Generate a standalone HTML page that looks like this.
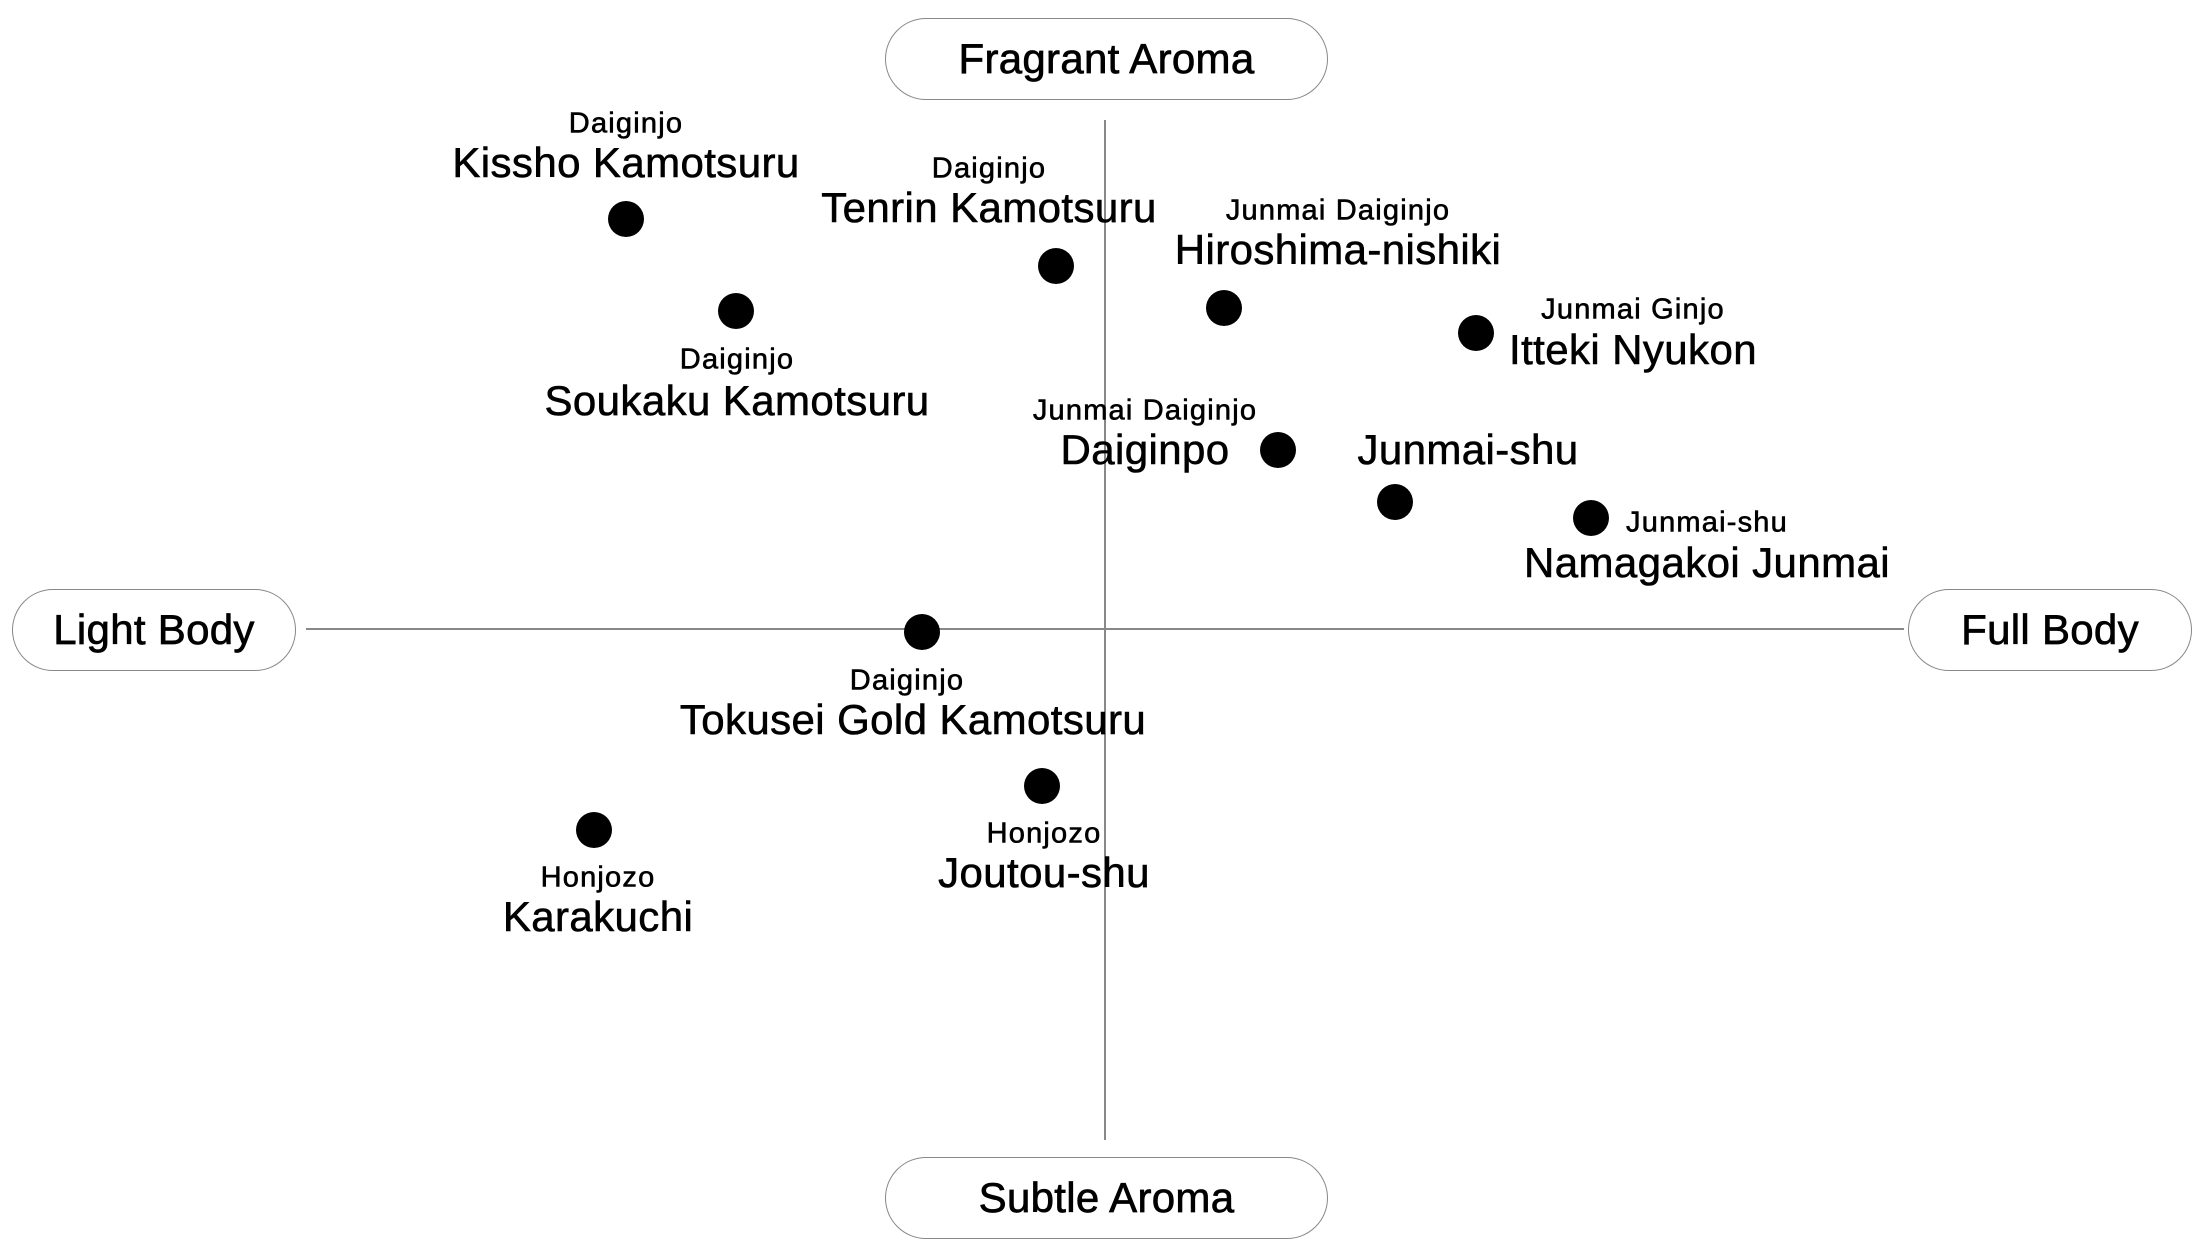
<!DOCTYPE html>
<html><head><meta charset="utf-8"><style>
html,body{margin:0;padding:0;background:#fff;}
body{width:2200px;height:1246px;position:relative;overflow:hidden;font-family:"Liberation Sans",sans-serif;color:#000;}
.pill{position:absolute;border:1.5px solid #888;border-radius:42px;box-sizing:border-box;display:flex;align-items:center;justify-content:center;font-size:42px;-webkit-text-stroke:0.7px #000;letter-spacing:0.3px;}
.dot{position:absolute;width:36px;height:36px;border-radius:50%;background:#000;transform:translate(-50%,-50%);}
.t{position:absolute;transform:translate(-50%,-50%);white-space:nowrap;line-height:1;-webkit-text-stroke:0.6px #000;}
.s{font-size:29px;letter-spacing:1.2px;}
.l{font-size:42px;letter-spacing:0.4px;}
.ln{position:absolute;background:#888;}
</style></head><body>
<div class="ln" style="left:1104px;top:120px;width:1.5px;height:1020px"></div>
<div class="ln" style="left:306px;top:628px;width:1598px;height:1.5px"></div>

<div class="pill" style="left:885px;top:18px;width:443px;height:82px">Fragrant Aroma</div>
<div class="pill" style="left:885px;top:1157px;width:443px;height:82px">Subtle Aroma</div>
<div class="pill" style="left:12px;top:589px;width:284px;height:82px">Light Body</div>
<div class="pill" style="left:1908px;top:589px;width:284px;height:82px">Full Body</div>

<div class="dot" style="left:626px;top:219px"></div>
<div class="dot" style="left:736px;top:311px"></div>
<div class="dot" style="left:1056px;top:266px"></div>
<div class="dot" style="left:1224px;top:308px"></div>
<div class="dot" style="left:1476px;top:333px"></div>
<div class="dot" style="left:1278px;top:450px"></div>
<div class="dot" style="left:1395px;top:502px"></div>
<div class="dot" style="left:1591px;top:518px"></div>
<div class="dot" style="left:922px;top:632px"></div>
<div class="dot" style="left:1042px;top:786px"></div>
<div class="dot" style="left:594px;top:830px"></div>

<div class="t s" style="left:626px;top:124px">Daiginjo</div>
<div class="t l" style="left:626px;top:163px">Kissho Kamotsuru</div>
<div class="t s" style="left:989px;top:169px">Daiginjo</div>
<div class="t l" style="left:989px;top:208px">Tenrin Kamotsuru</div>
<div class="t s" style="left:737px;top:360px">Daiginjo</div>
<div class="t l" style="left:737px;top:401px">Soukaku Kamotsuru</div>
<div class="t s" style="left:1338px;top:211px">Junmai Daiginjo</div>
<div class="t l" style="left:1338px;top:250px">Hiroshima-nishiki</div>
<div class="t s" style="left:1633px;top:310px">Junmai Ginjo</div>
<div class="t l" style="left:1633px;top:350px">Itteki Nyukon</div>
<div class="t s" style="left:1145px;top:411px">Junmai Daiginjo</div>
<div class="t l" style="left:1145px;top:450px">Daiginpo</div>
<div class="t l" style="left:1468px;top:450px">Junmai-shu</div>
<div class="t s" style="left:1707px;top:523px">Junmai-shu</div>
<div class="t l" style="left:1707px;top:563px">Namagakoi Junmai</div>
<div class="t s" style="left:907px;top:681px">Daiginjo</div>
<div class="t l" style="left:913px;top:720px">Tokusei Gold Kamotsuru</div>
<div class="t s" style="left:1044px;top:834px">Honjozo</div>
<div class="t l" style="left:1044px;top:873px">Joutou-shu</div>
<div class="t s" style="left:598px;top:878px">Honjozo</div>
<div class="t l" style="left:598px;top:917px">Karakuchi</div>
</body></html>
